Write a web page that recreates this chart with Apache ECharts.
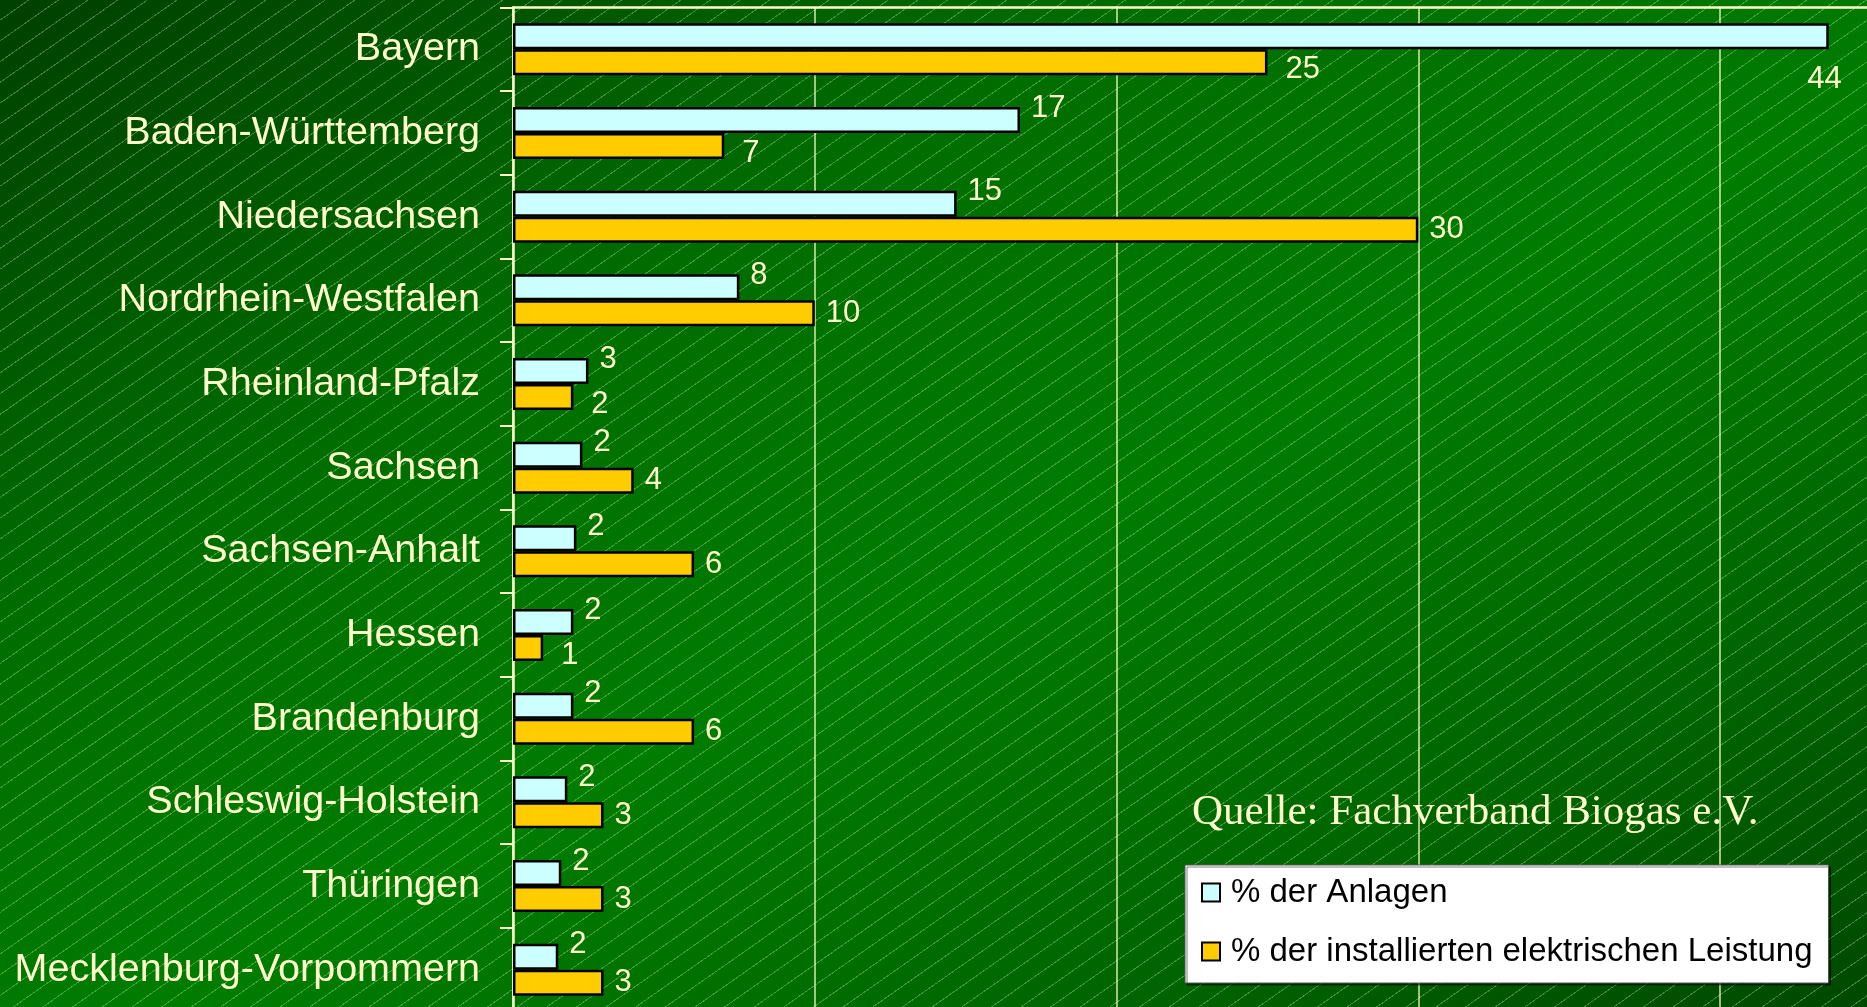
<!DOCTYPE html>
<html>
<head>
<meta charset="utf-8">
<script src="https://cdn.jsdelivr.net/npm/echarts@6/dist/echarts.min.js"></script>
<style>
    html, body { margin: 0; padding: 0; width: 100%; height: 100%; overflow: hidden; }
    body {
        background:
            repeating-linear-gradient(145deg, rgba(0,0,0,0) 0px, rgba(0,0,0,0) 16px, rgba(190,255,170,0.32) 16px, rgba(190,255,170,0.32) 17px),
            linear-gradient(to bottom right, #003f00 0%, #006c00 30%, #007c00 55%, #006400 80%, #004800 100%);
    }
    #chart { width: 1867px; height: 1007px; }
</style>
</head>
<body>
<div id="chart"></div>
<script>
// Bundeslaender
const categories = ['Bayern', 'Baden-Württemberg', 'Niedersachsen', 'Nordrhein-Westfalen', 'Rheinland-Pfalz', 'Sachsen',
    'Sachsen-Anhalt', 'Hessen', 'Brandenburg', 'Schleswig-Holstein', 'Thüringen', 'Mecklenburg-Vorpommern']
// % der Anlagen
const anlagen = [43.6, 16.8, 14.7, 7.5, 2.5, 2.3, 2.1, 2.0, 2.0, 1.8, 1.6, 1.5]
// % der installierten elektrischen Leistung
const leistung = [25, 7, 30, 10, 2, 4, 6, 1, 6, 3, 3, 3]
const seriesNames = ['% der Anlagen', '% der installierten elektrischen Leistung']
const xTicks = [0, 10, 20, 30, 40]

const xMax = 45
const fg = '#ffffcc'
const round = (p) => Math.round(p.value)

// Anlagen-Balken: sehr lange Balken bekommen das Label unter dem Ende
const anlagenData = anlagen.map((v) => {
    if (v > xMax * 0.95) {
        return { value: v, label: { position: 'insideRight', offset: [24, 43] } }
    }
    return v
})
// Leistung: wenn der Anlagen-Balken laenger ist, rutscht das Label etwas weg
const leistungData = leistung.map((v, i) => {
    if (anlagen[i] > v) {
        return { value: v, label: { offset: [7, 7] } }
    }
    return v
})

const option = {
    backgroundColor: 'transparent',
    animation: false,
    title: {
        text: 'Quelle: Fachverband Biogas e.V.',
        left: 1192,
        top: 791,
        padding: 0,
        textStyle: { fontFamily: 'Liberation Serif', fontSize: 43, fontWeight: 'normal', color: fg }
    },
    legend: {
        orient: 'vertical',
        left: 1185,
        top: 865,
        padding: [11, 16, 15, 16],
        itemGap: 26,
        itemWidth: 18,
        itemHeight: 18,
        icon: 'rect',
        backgroundColor: '#ffffff',
        borderColor: '#555555',
        borderWidth: 1,
        shadowColor: 'rgba(0,0,0,0.5)',
        shadowOffsetX: 2,
        shadowOffsetY: 2,
        textStyle: { fontFamily: 'Liberation Sans', fontSize: 33, color: '#000000', padding: [0, 0, 0, 6] },
        data: seriesNames
    },
    grid: {
        left: 513,
        top: 7.5,
        width: 1358,
        height: 1004,
        containLabel: false,
        outerBoundsMode: 'none'
    },
    xAxis: {
        type: 'value',
        position: 'top',
        min: xTicks[0],
        max: xMax,
        interval: xTicks[1] - xTicks[0],
        axisLine: { show: true, lineStyle: { color: fg, width: 2.5 } },
        axisTick: { show: false },
        axisLabel: { show: false },
        splitLine: { show: true, lineStyle: { color: 'rgba(255,255,204,0.85)', width: 1.5 } }
    },
    yAxis: {
        type: 'category',
        inverse: true,
        data: categories,
        axisLine: { show: true, lineStyle: { color: fg, width: 2.5 } },
        axisTick: { show: true, length: 13, lineStyle: { color: fg, width: 2 } },
        axisLabel: { margin: 33, padding: [4, 0, 0, 0], fontFamily: 'Liberation Sans', fontSize: 39.5, color: fg }
    },
    series: [
        {
            name: seriesNames[0],
            type: 'bar',
            data: anlagenData,
            barWidth: 26,
            barGap: '0%',
            itemStyle: { color: '#ccffff', borderColor: '#000000', borderWidth: 2.5 },
            label: {
                show: true, position: 'right', distance: 11, offset: [0, -12],
                formatter: round, fontFamily: 'Liberation Sans', fontSize: 31, color: fg
            }
        },
        {
            name: seriesNames[1],
            type: 'bar',
            data: leistungData,
            barWidth: 26,
            barGap: '0%',
            itemStyle: { color: '#ffcc00', borderColor: '#000000', borderWidth: 2.5 },
            label: {
                show: true, position: 'right', distance: 11, offset: [0, 0],
                formatter: round, fontFamily: 'Liberation Sans', fontSize: 31, color: fg
            }
        }
    ]
}

const myChart = echarts.init(document.getElementById('chart'))
myChart.setOption(option)
</script>
</body>
</html>
